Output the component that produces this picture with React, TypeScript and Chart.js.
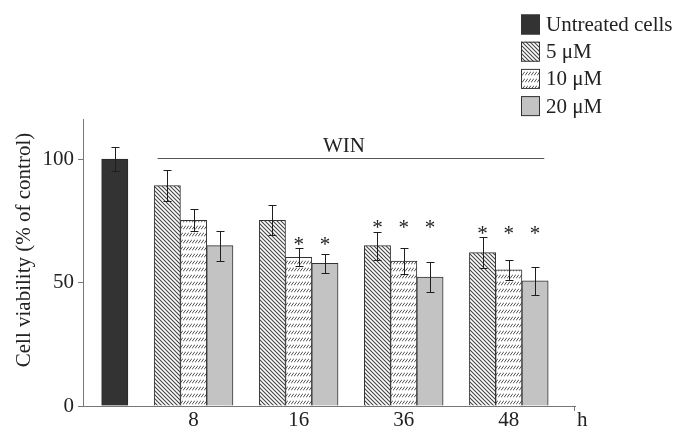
import { useEffect, useRef } from 'react';
import { Chart, registerables } from 'chart.js';
Chart.register(...registerables);

const hours = ['8', '16', '36', '48'];
const seriesLabels = ['Untreated cells', '5 μM', '10 μM', '20 μM'];
const untreated = [100];
const untreatedErr = [5];
const dose5 = [89.2, 75.2, 64.9, 62.1];
const dose5Err = [6.2, 6.0, 5.7, 6.3];
const dose10 = [75.2, 60.2, 58.7, 55.1];
const dose10Err = [4.5, 3.7, 5.4, 4.1];
const dose20 = [64.9, 57.8, 52.2, 50.7];
const dose20Err = [6.0, 3.8, 6.2, 5.7];
const untreatedSig = [false];
const dose5Sig = [false, false, true, true];
const dose10Sig = [false, true, true, true];
const dose20Sig = [false, true, true, true];
const yTicks = [0, 50, 100];
const treatmentLabel = 'WIN';
const treatmentLevel = 100.5;
const yTitle = 'Cell viability (% of control)';
const xTitle = 'h';

const FONT = "'Liberation Serif', 'Times New Roman', serif";
const TXT = '#222';
const AXIS = '#777';

// slot layout: untreated in slot 0, then per hour group: gap + 3 bars
const slotOf = (g: number, k: number) => 2 + 4 * g + k;
const tickSlot = (g: number) => 3 + 4 * g;

function hatchPattern(): CanvasPattern | string {
  const c = document.createElement('canvas');
  c.width = 4; c.height = 4;
  const g = c.getContext('2d');
  if (!g) return '#888';
  g.fillStyle = '#fff';
  g.fillRect(0, 0, 4, 4);
  g.strokeStyle = '#444';
  g.lineWidth = 1.1;
  g.beginPath();
  g.moveTo(-1, -1); g.lineTo(5, 5);
  g.moveTo(-1, 3); g.lineTo(1, 5);
  g.moveTo(3, -1); g.lineTo(5, 1);
  g.stroke();
  return g.createPattern(c, 'repeat') || '#888';
}

function dashPattern(): CanvasPattern | string {
  const c = document.createElement('canvas');
  c.width = 3; c.height = 7;
  const g = c.getContext('2d');
  if (!g) return '#ddd';
  g.fillStyle = '#fff';
  g.fillRect(0, 0, 3, 7);
  g.strokeStyle = '#555';
  g.lineWidth = 1;
  g.beginPath();
  g.moveTo(0, 5.5); g.lineTo(3, 1.5);
  g.stroke();
  return g.createPattern(c, 'repeat') || '#ddd';
}

export default function App() {
  const ref = useRef<HTMLCanvasElement | null>(null);
  useEffect(() => {
    if (!ref.current) return;
    const hatch = hatchPattern();
    const dash = dashPattern();
    const datasets: any[] = [
      {
        label: seriesLabels[0],
        data: untreated.map((v, i) => ({ x: i, y: v })),
        err: untreatedErr, sig: untreatedSig,
        backgroundColor: '#333', borderColor: '#2a2a2a',
      },
      {
        label: seriesLabels[1],
        data: dose5.map((v, g) => ({ x: slotOf(g, 0), y: v })),
        err: dose5Err, sig: dose5Sig,
        backgroundColor: hatch, borderColor: '#333',
      },
      {
        label: seriesLabels[2],
        data: dose10.map((v, g) => ({ x: slotOf(g, 1), y: v })),
        err: dose10Err, sig: dose10Sig,
        backgroundColor: dash, borderColor: '#333',
      },
      {
        label: seriesLabels[3],
        data: dose20.map((v, g) => ({ x: slotOf(g, 2), y: v })),
        err: dose20Err, sig: dose20Sig,
        backgroundColor: '#c3c3c3', borderColor: '#333',
      },
    ];

    const annot = {
      id: 'annot',
      afterDatasetsDraw(chart: any) {
        const { ctx } = chart;
        const xs = chart.scales.x;
        const ys = chart.scales.y;
        ctx.save();
        // error bars
        ctx.strokeStyle = '#1e1e1e';
        ctx.lineWidth = 1;
        chart.data.datasets.forEach((ds: any, di: number) => {
          const meta = chart.getDatasetMeta(di);
          meta.data.forEach((el: any, j: number) => {
            const v = ds.data[j].y;
            const e = ds.err[j];
            const x = Math.round(el.x) + 0.5;
            const t = Math.round(ys.getPixelForValue(v + e)) + 0.5;
            const b = Math.round(ys.getPixelForValue(v - e)) + 0.5;
            ctx.beginPath();
            ctx.moveTo(x, t); ctx.lineTo(x, b);
            ctx.moveTo(x - 4, t); ctx.lineTo(x + 4, t);
            ctx.moveTo(x - 4, b); ctx.lineTo(x + 4, b);
            ctx.stroke();
          });
        });
        // asterisks: per group at common height above highest starred error bar
        ctx.fillStyle = TXT;
        ctx.font = `21px ${FONT}`;
        ctx.textAlign = 'center';
        ctx.textBaseline = 'alphabetic';
        hours.forEach((_, g) => {
          let top = Infinity;
          const xsStar: number[] = [];
          for (let di = 1; di < chart.data.datasets.length; di++) {
            const ds = chart.data.datasets[di];
            if (!ds.sig[g]) continue;
            const el = chart.getDatasetMeta(di).data[g];
            top = Math.min(top, ys.getPixelForValue(ds.data[g].y + ds.err[g]));
            xsStar.push(el.x);
          }
          xsStar.forEach((x) => ctx.fillText('*', x, top - 7.5 + 10));
        });
        // treatment line
        const yl = Math.round(ys.getPixelForValue(treatmentLevel)) + 0.5;
        const x1 = xs.getPixelForValue(slotOf(0, 0) - 0.37);
        const x2 = xs.getPixelForValue(slotOf(hours.length - 1, 2) + 0.35);
        ctx.strokeStyle = '#555';
        ctx.beginPath();
        ctx.moveTo(x1, yl); ctx.lineTo(x2, yl);
        ctx.stroke();
        ctx.fillText(treatmentLabel, (x1 + x2) / 2 - 7, yl - 6.5);
        ctx.restore();
      },
      afterDraw(chart: any) {
        const { ctx, chartArea } = chart;
        ctx.save();
        // x-axis end tick and unit
        ctx.strokeStyle = AXIS;
        ctx.lineWidth = 1;
        ctx.beginPath();
        ctx.moveTo(chartArea.right - 0.5, chartArea.bottom);
        ctx.lineTo(chartArea.right - 0.5, chartArea.bottom + 5);
        ctx.stroke();
        ctx.fillStyle = TXT;
        ctx.font = `21px ${FONT}`;
        ctx.textAlign = 'left';
        ctx.textBaseline = 'alphabetic';
        ctx.fillText(xTitle, chartArea.right + 2, chartArea.bottom + 20);
        // y title
        ctx.save();
        ctx.translate(24, 250);
        ctx.rotate(-Math.PI / 2);
        ctx.textAlign = 'center';
        ctx.textBaseline = 'middle';
        ctx.fillText(yTitle, 0, 0);
        ctx.restore();
        // legend
        const bx = 521, tx = 546, y0 = 24.5, step = 27.2;
        chart.data.datasets.forEach((ds: any, i: number) => {
          const cy = y0 + i * step;
          ctx.fillStyle = ds.backgroundColor;
          ctx.fillRect(bx, cy - 10, 19, 20);
          ctx.strokeStyle = '#333';
          ctx.strokeRect(bx + 0.5, cy - 9.5, 18, 19);
          ctx.fillStyle = TXT;
          ctx.textAlign = 'left';
          ctx.textBaseline = 'middle';
          ctx.fillText(ds.label, tx, cy + 1);
        });
        ctx.restore();
      },
    };

    const chart = new Chart(ref.current, {
      type: 'bar',
      data: { datasets },
      options: {
        animation: false,
        responsive: true,
        maintainAspectRatio: false,
        layout: { padding: { top: 119, right: 101, left: 0, bottom: 0 } },
        datasets: {
          bar: {
            grouped: false,
            barPercentage: 1,
            categoryPercentage: 1,
            borderWidth: 1,
          },
        },
        plugins: {
          legend: { display: false },
          tooltip: { enabled: false },
        },
        scales: {
          x: {
            type: 'linear',
            offset: false,
            min: -1.21,
            max: 17.52,
            grid: { display: false, offset: false },
            border: { display: true, color: AXIS },
            afterBuildTicks: (s: any) => {
              s.ticks = hours.map((_, g) => ({ value: tickSlot(g) }));
            },
            afterFit: (s: any) => { s.height = 24; },
            ticks: {
              autoSkip: false,
              maxRotation: 0,
              padding: -6,
              color: TXT,
              font: { family: FONT, size: 21 },
              callback: (_v: any, i: number) => hours[i],
            },
          },
          y: {
            min: 0,
            max: 116.2,
            afterBuildTicks: (s: any) => {
              s.ticks = yTicks.map((v) => ({ value: v }));
            },
            afterFit: (s: any) => { s.width = 83; },
            grid: { display: true, drawOnChartArea: false, drawTicks: true, tickLength: 5, color: AXIS },
            border: { display: true, color: AXIS },
            ticks: {
              padding: 4,
              color: TXT,
              font: { family: FONT, size: 21 },
            },
          },
        },
      },
      plugins: [annot],
    } as any);
    return () => chart.destroy();
  }, []);
  return (
    <div style={{ position: 'absolute', left: 0, top: 0, width: 676, height: 430, background: '#fff' }}>
      <canvas ref={ref} />
    </div>
  );
}
